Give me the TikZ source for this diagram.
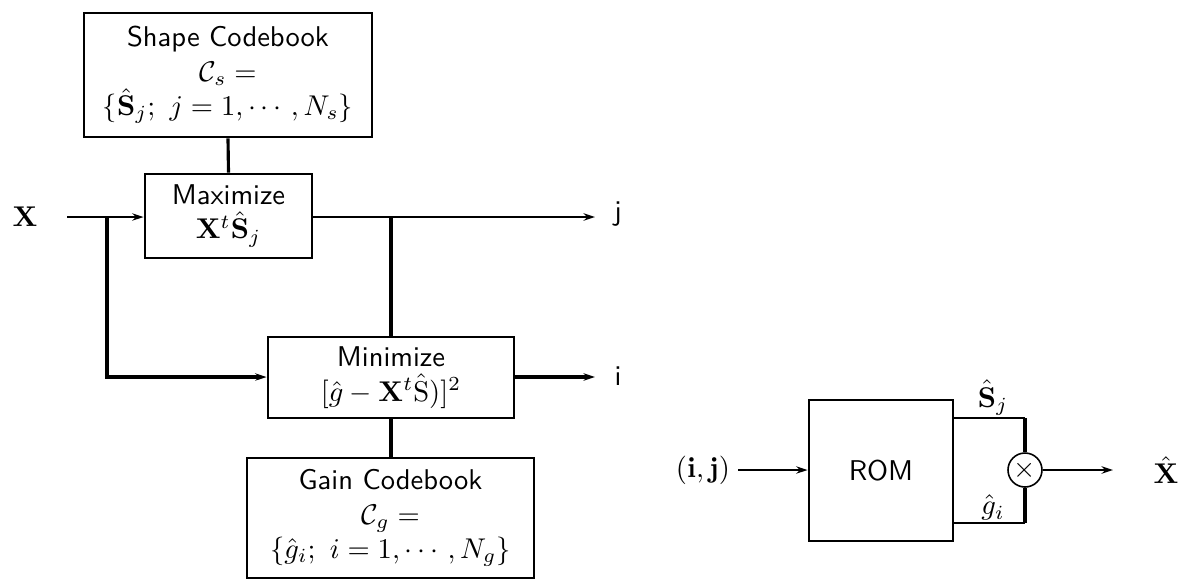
\documentclass[tikz,border=0pt]{standalone}
\usepackage{amsmath}
\usetikzlibrary{arrows.meta,calc}
\begin{document}
\begin{tikzpicture}[x=0.35pt,y=-0.35pt,
 box/.style={draw, line width=1pt, inner sep=0pt, align=center, font=\sffamily},
 thinl/.style={line width=0.55pt},
 thickl/.style={line width=1.1pt},
 arr/.style={-{Stealth[length=4pt,width=2.6pt]}},
 lbl/.style={inner sep=0pt}]
\useasboundingbox (0,0) rectangle (1187,580);
% boxes
\node[box, minimum width=288*0.35pt, minimum height=124*0.35pt] (shape) at (228,75)
  {Shape Codebook\\ $\mathcal{C}_s=$\\ $\{\hat{\mathbf{S}}_j;\ j=1,\cdots,N_s\}$};
\node[box, minimum width=167*0.35pt, minimum height=84*0.35pt] (maxi) at (228.5,216)
  {Maximize\\ $\mathbf{X}^t\hat{\mathbf{S}}_j$};
\node[box, minimum width=246*0.35pt, minimum height=81*0.35pt] (mini) at (391,377.5)
  {Minimize\\ $[\hat{g}-\mathbf{X}^t\hat{\mathrm{S}})]^2$};
\node[box, minimum width=287*0.35pt, minimum height=120*0.35pt] (gain) at (390.5,518)
  {Gain Codebook\\ $\mathcal{C}_g=$\\ $\{\hat{g}_i;\ i=1,\cdots,N_g\}$};
\node[box, minimum width=144*0.35pt, minimum height=141*0.35pt] (rom) at (881,470.5) {ROM};
\node[draw, thinl, circle, minimum size=34*0.35pt, inner sep=0pt] (mult) at (1025,470) {$\times$};
% labels
\node[lbl] (xin) at (25,217) {$\mathbf{X}$};
\node[lbl, font=\sffamily] (jout) at (618,214) {j};
\node[lbl, font=\sffamily] (iout) at (618,376) {i};
\node[lbl] (ijin) at (703,470) {$(\mathbf{i},\mathbf{j})$};
\node[lbl] (xhat) at (1166,470) {$\hat{\mathbf{X}}$};
% coordinates
\coordinate (xs) at (67,217);
\coordinate (b1) at (107,217);
\coordinate (b2) at (107,377);
\coordinate (c1) at (391,217);
\coordinate (jend) at (595,217);
\coordinate (iend) at (595,377);
\coordinate (ijs) at (738,470);
\coordinate (xe) at (1113,470);
\coordinate (su) at (1025,418);
\coordinate (gd) at (1025,523);
% left connectors
\draw[thickl] (shape.south) -- (maxi.north);
\draw[thinl, arr] (xs) -- (maxi.west |- xs);
\draw[thickl, arr] (b1) -- (b2) -- (mini.west |- b2);
\draw[thinl, arr] (maxi.east |- jend) -- (jend);
\draw[thickl] (c1) -- (mini.north -| c1);
\draw[thickl, arr] (mini.east |- iend) -- (iend);
\draw[thickl] (mini.south -| c1) -- (gain.north -| c1);
% right connectors
\draw[thinl, arr] (ijs) -- (rom.west |- ijs);
\draw[thinl] (rom.east |- su) -- (su);
\draw[thickl] (su) -- (mult.north);
\draw[thinl] (rom.east |- gd) -- (gd);
\draw[thickl] (gd) -- (mult.south);
\draw[thinl, arr] (mult.east) -- (xe);
\node[lbl, anchor=south] (slbl) at (993,416) {$\hat{\mathbf{S}}_j$};
\node[lbl, anchor=south] (glbl) at (993,521) {$\hat{g}_i$};
\end{tikzpicture}
\end{document}
